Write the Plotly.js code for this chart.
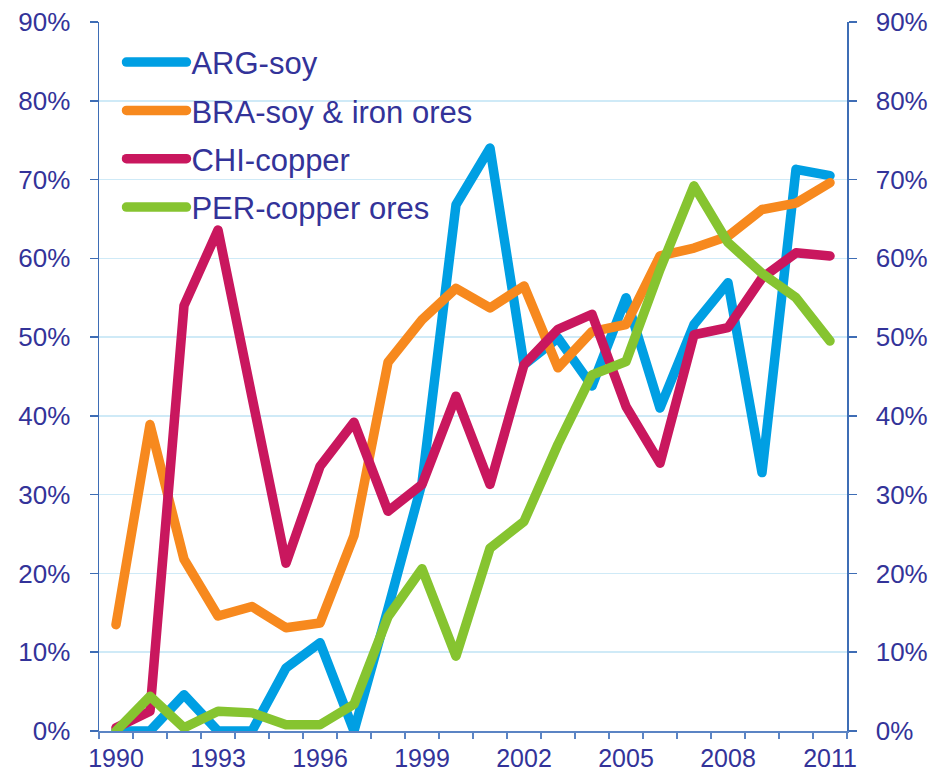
<!DOCTYPE html>
<html>
<head>
<meta charset="utf-8">
<script src="https://cdn.plot.ly/plotly-3.0.1.min.js"></script>
<style>
html,body{margin:0;padding:0;background:#fff;}
.js-line, .legendlines path { stroke-linejoin: round !important; stroke-linecap: round !important; }
</style>
</head>
<body>
<div id="chart" style="width:945px;height:775px;"></div>
<script>
const years = [1990,1991,1992,1993,1994,1995,1996,1997,1998,1999,2000,2001,2002,2003,2004,2005,2006,2007,2008,2009,2010,2011];
const tickYears = [1990,1993,1996,1999,2002,2005,2008,2011];
const seriesNames = ["ARG-soy","BRA-soy & iron ores","CHI-copper","PER-copper ores"];
const argSoy    = [0,0,4.6,0,0,8.0,11.2,0,15.5,31.5,66.8,74.0,46.5,49.9,43.8,55.0,41.0,51.6,56.9,32.8,71.3,70.5];
const braSoy    = [13.5,38.9,21.8,14.6,15.8,13.1,13.7,24.8,46.8,52.2,56.2,53.7,56.5,46.1,50.7,51.6,60.3,61.3,62.8,66.2,67.0,69.6];
const chiCopper = [0.4,2.5,54.0,63.6,42.4,21.3,33.6,39.2,27.9,31.3,42.5,31.3,46.5,51.0,52.9,41.2,34.0,50.3,51.2,57.5,60.7,60.3];
const perCopper = [0,4.4,0.4,2.5,2.3,0.8,0.8,3.4,14.5,20.6,9.5,23.2,26.6,36.4,45.2,46.9,58.6,69.2,62.0,58.1,55.0,49.5];
const colors = ["#009FE3","#F7891E","#C9175E","#86C430"];
const yTicks = [0,10,20,30,40,50,60,70,80,90];

const textColor = "#333399";
const axisColor = "#3E6DB5";
const gridColor = "#CFEAF7";
const font = {family: "Liberation Sans, Arial, sans-serif", size: 26, color: textColor};
const xFont = {family: "Liberation Sans, Arial, sans-serif", size: 25, color: textColor};

const allSeries = [argSoy, braSoy, chiCopper, perCopper];
const traces = allSeries.map((vals, i) => ({
  type: "scatter", mode: "lines", x: years, y: vals, name: seriesNames[i],
  legendgroup: "g" + i,
  line: {color: colors[i], width: 9.5}, hoverinfo: "skip"
}));
// invisible companion trace so the right-hand axis is drawn
traces.unshift({
  type: "scatter", mode: "lines", x: years, y: argSoy, yaxis: "y2",
  showlegend: false, line: {color: "rgba(0,0,0,0)", width: 0}, hoverinfo: "skip"
});

const yTickText = yTicks.map(v => v + "%");

const layout = {
  width: 945, height: 775,
  margin: {l: 99, r: 98, t: 22, b: 43.5},
  paper_bgcolor: "#fff", plot_bgcolor: "#fff",
  font: font,
  showlegend: true,
  legend: {
    x: 0.03, xanchor: "left", y: 0.981, yanchor: "top",
    bgcolor: "rgba(0,0,0,0)", borderwidth: 0,
    font: {family: "Liberation Sans, Arial, sans-serif", size: 31, color: textColor},
    tracegroupgap: 5, itemwidth: 60
  },
  xaxis: {
    range: [1989.5, 2011.5], tickmode: "array", tickvals: tickYears, ticktext: tickYears.map(String),
    ticks: "", showgrid: false, zeroline: false,
    showline: true, linecolor: "#5B84C4", linewidth: 1.5,
    tickfont: xFont, ticklabelstandoff: 4,
    minor: {tick0: 1989.5, dtick: 1, ticks: "outside", ticklen: 6, tickcolor: "#5B84C4", tickwidth: 1.5, showgrid: false}
  },
  yaxis: {
    range: [0, 90], tickmode: "array", tickvals: yTicks, ticktext: yTickText,
    ticks: "outside", ticklen: 8, tickcolor: axisColor, tickwidth: 1.5,
    showline: true, linecolor: axisColor, linewidth: 1.5,
    showgrid: true, gridcolor: gridColor, gridwidth: 1.5, zeroline: false,
    tickfont: font, ticklabelstandoff: 14
  },
  yaxis2: {
    range: [0, 90], overlaying: "y", side: "right", tickmode: "array", tickvals: yTicks, ticktext: yTickText,
    ticks: "outside", ticklen: 8, tickcolor: axisColor, tickwidth: 1.5,
    showline: true, linecolor: axisColor, linewidth: 1.5,
    showgrid: false, zeroline: false,
    tickfont: font, ticklabelstandoff: 14
  }
};

Plotly.newPlot("chart", traces, layout, {staticPlot: true, displayModeBar: false});
</script>
</body>
</html>
